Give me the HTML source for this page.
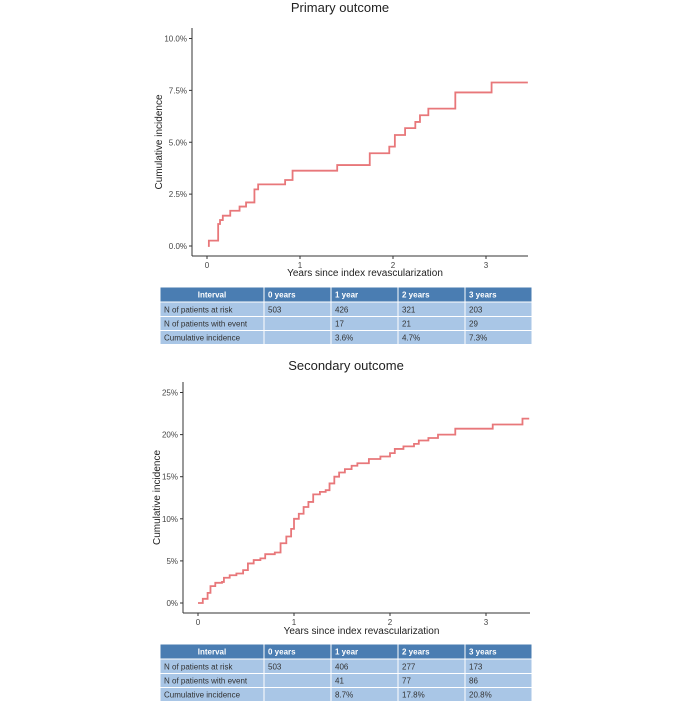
<!DOCTYPE html>
<html><head><meta charset="utf-8"><style>
body{margin:0;background:#fff;font-family:"Liberation Sans",sans-serif}
svg text{font-family:"Liberation Sans",sans-serif}
</style></head><body>
<svg id="s" width="684" height="703" xmlns="http://www.w3.org/2000/svg"></svg>
<script>
// Primary outcome step data (years, cumulative %)
const primX=[0.01,0.02,0.12,0.14,0.17,0.25,0.35,0.42,0.51,0.55,0.84,0.92,1.40,1.75,1.96,2.02,2.13,2.24,2.29,2.38,2.67,3.06,3.45];
const primY=[0,0.26,1.06,1.25,1.46,1.7,1.9,2.1,2.73,2.97,3.18,3.63,3.9,4.47,4.79,5.35,5.68,5.98,6.3,6.62,7.4,7.88,7.88];
const primTicksY=["0.0%","2.5%","5.0%","7.5%","10.0%"];
const primTickVals=[0,2.5,5,7.5,10];
// Secondary outcome step data
const secX=[0,0.05,0.1,0.13,0.18,0.25,0.27,0.33,0.4,0.47,0.52,0.58,0.65,0.7,0.8,0.86,0.92,0.97,1.0,1.05,1.1,1.15,1.2,1.27,1.33,1.37,1.42,1.47,1.53,1.6,1.66,1.78,1.9,2.0,2.05,2.14,2.25,2.3,2.4,2.5,2.68,3.07,3.38,3.45];
const secY=[0,0.5,1.2,2.0,2.4,2.5,3.0,3.3,3.5,3.9,4.7,5.1,5.3,5.8,6.0,7.1,7.9,8.8,10.0,10.6,11.4,12.0,12.9,13.2,13.4,14.2,15.0,15.5,15.9,16.3,16.6,17.1,17.4,17.8,18.3,18.6,18.9,19.3,19.6,20.0,20.7,21.2,21.9,21.9];
const secTicksY=["0%","5%","10%","15%","20%","25%"];
const secTickVals=[0,5,10,15,20,25];
const xTicks=[0,1,2,3];
const tableHead=["Interval","0 years","1 year","2 years","3 years"];
const primRows=[["N of patients at risk","503","426","321","203"],["N of patients with event","","17","21","29"],["Cumulative incidence","","3.6%","4.7%","7.3%"]];
const secRows=[["N of patients at risk","503","406","277","173"],["N of patients with event","","41","77","86"],["Cumulative incidence","","8.7%","17.8%","20.8%"]];

const svg=document.getElementById('s');
const NS="http://www.w3.org/2000/svg";
function mk(t,a,txt){const e=document.createElementNS(NS,t);for(const k in a)e.setAttribute(k,a[k]);if(txt!==undefined)e.textContent=txt;svg.appendChild(e);return e;}

function chart(o){
  const sx=v=>o.x0+v*o.pxYr, sy=v=>o.y0-v*o.pxUnit;
  let e=mk('text',{x:o.titleX,y:o.titleY,'text-anchor':'middle','font-size':13,fill:'#222'},o.title);
  
  
  e=mk('line',{x1:o.ax,y1:o.top,x2:o.ax,y2:o.ay,stroke:'#333','stroke-width':1});
  
  
  e=mk('line',{x1:o.ax,y1:o.ay,x2:o.right,y2:o.ay,stroke:'#333','stroke-width':1});
  
  
  o.tv.forEach((v,i)=>{
    mk('line',{x1:o.ax-3,x2:o.ax,y1:sy(v),y2:sy(v),stroke:'#333'});
    e=mk('text',{x:o.ax-5,y:sy(v)+3,'text-anchor':'end','font-size':8,fill:'#444'},o.tl[i]);
    
    
  });
  xTicks.forEach(v=>{
    mk('line',{x1:sx(v),x2:sx(v),y1:o.ay,y2:o.ay+3,stroke:'#333'});
    e=mk('text',{x:sx(v),y:o.ay+12,'text-anchor':'middle','font-size':8,fill:'#444'},String(v));
    
    
  });
  e=mk('text',{x:(o.ax+o.right)/2+5,y:o.xlY,'text-anchor':'middle','font-size':10,fill:'#222'},'Years since index revascularization');
  
  
  const cy=(o.top+o.ay)/2;
  e=mk('text',{x:o.ylX,y:cy,'text-anchor':'middle','font-size':10,fill:'#222',transform:`rotate(-90 ${o.ylX} ${cy})`},'Cumulative incidence');
  
  
  let d=`M${sx(o.X[0])},${sy(o.Y[0])}`;
  for(let i=1;i<o.X.length;i++){d+=` H${sx(o.X[i])} V${sy(o.Y[i])}`;}
  e=mk('path',{d:d,fill:'none',stroke:'#e8777a','stroke-width':1.8});
  
  
  // table
  const cols=[160,264,331,398,465,532], rh=[15,14.5,14,14];
  let y=o.tTop;
  const rows=[tableHead].concat(o.rows);
  rows.forEach((r,ri)=>{
    const h=rh[ri];
    for(let c=0;c<5;c++){
      mk('rect',{x:cols[c],y:y,width:cols[c+1]-cols[c],height:h,fill:ri===0?'#4a7db2':'#a9c6e6',stroke:'#fff','stroke-width':1});
      e=mk('text',{x:ri===0&&c===0?(cols[0]+cols[1])/2:cols[c]+4,y:y+h/2+3,'text-anchor':ri===0&&c===0?'middle':'start','font-size':8,fill:ri===0?'#fff':'#333','font-weight':ri===0?'bold':'normal'},r[c]);
      
      
    }
    y+=h;
  });
}
chart({id:'primary',title:'Primary outcome',titleX:340,titleY:12,X:primX,Y:primY,tv:primTickVals,tl:primTicksY,
  ax:192,ay:256,top:28,right:528,x0:207,pxYr:93,y0:246,pxUnit:20.75,xlY:276,ylX:162,tTop:287,rows:primRows});
chart({id:'secondary',title:'Secondary outcome',titleX:346,titleY:370,X:secX,Y:secY,tv:secTickVals,tl:secTicksY,
  ax:183,ay:613,top:382,right:530,x0:198,pxYr:96,y0:603,pxUnit:8.42,xlY:634,ylX:160,tTop:644,rows:secRows});
</script>
</body></html>
